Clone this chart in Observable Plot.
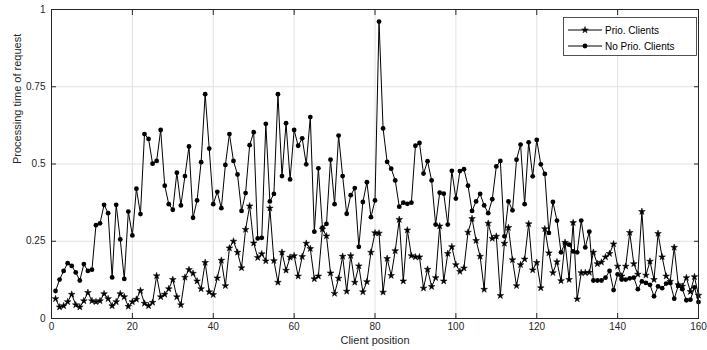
<!DOCTYPE html>
<html>
<head>
<meta charset="utf-8">
<script src="https://cdn.jsdelivr.net/npm/d3@7"></script>
<script src="https://cdn.jsdelivr.net/npm/@observablehq/plot@0.6"></script>
<style>
  html, body { margin: 0; padding: 0; background: #fff; }
  #chart { width: 707px; height: 350px; }
</style>
</head>
<body>
<div id="chart"></div>
<script>
// Processing time per client position (1..160)
const prioClients = [
  0.064, 0.037, 0.041, 0.054, 0.078, 0.044, 0.037, 0.057, 0.084, 0.057,
  0.054, 0.057, 0.080, 0.064, 0.041, 0.054, 0.080, 0.070, 0.039, 0.054,
  0.062, 0.090, 0.049, 0.041, 0.052, 0.138, 0.070, 0.078, 0.096, 0.126,
  0.070, 0.044, 0.133, 0.158, 0.146, 0.121, 0.096, 0.181, 0.086, 0.077,
  0.131, 0.188, 0.106, 0.228, 0.250, 0.214, 0.164, 0.288, 0.364, 0.244,
  0.197, 0.209, 0.186, 0.357, 0.187, 0.117, 0.214, 0.156, 0.198, 0.203,
  0.137, 0.200, 0.243, 0.226, 0.128, 0.137, 0.289, 0.267, 0.147, 0.081,
  0.130, 0.201, 0.088, 0.203, 0.117, 0.170, 0.086, 0.119, 0.214, 0.277,
  0.276, 0.085, 0.194, 0.139, 0.219, 0.320, 0.121, 0.286, 0.203, 0.199,
  0.199, 0.098, 0.159, 0.103, 0.132, 0.299, 0.121, 0.210, 0.232, 0.174,
  0.152, 0.163, 0.279, 0.323, 0.252, 0.201, 0.094, 0.308, 0.259, 0.266,
  0.074, 0.243, 0.294, 0.190, 0.106, 0.174, 0.192, 0.306, 0.157, 0.181,
  0.099, 0.290, 0.212, 0.148, 0.183, 0.122, 0.246, 0.126, 0.310, 0.063,
  0.148, 0.148, 0.149, 0.214, 0.177, 0.182, 0.199, 0.210, 0.241, 0.169,
  0.137, 0.169, 0.278, 0.177, 0.143, 0.346, 0.140, 0.185, 0.126, 0.275,
  0.199, 0.137, 0.120, 0.230, 0.109, 0.104, 0.132, 0.087, 0.135, 0.075
];
const noPrioClients = [
  0.089, 0.126, 0.154, 0.179, 0.170, 0.149, 0.123, 0.176, 0.154, 0.158,
  0.302, 0.308, 0.368, 0.341, 0.133, 0.368, 0.256, 0.128, 0.346, 0.269,
  0.420, 0.338, 0.597, 0.581, 0.501, 0.510, 0.610, 0.430, 0.370, 0.352,
  0.472, 0.366, 0.461, 0.557, 0.326, 0.382, 0.506, 0.726, 0.550, 0.370,
  0.410, 0.357, 0.497, 0.597, 0.510, 0.466, 0.348, 0.406, 0.561, 0.603,
  0.259, 0.261, 0.630, 0.379, 0.403, 0.726, 0.461, 0.632, 0.450, 0.610,
  0.559, 0.583, 0.499, 0.652, 0.281, 0.486, 0.294, 0.306, 0.514, 0.370,
  0.592, 0.461, 0.339, 0.399, 0.422, 0.232, 0.377, 0.441, 0.328, 0.382,
  0.961, 0.615, 0.507, 0.485, 0.447, 0.362, 0.375, 0.371, 0.375, 0.559,
  0.568, 0.469, 0.509, 0.447, 0.304, 0.407, 0.404, 0.304, 0.478, 0.388,
  0.477, 0.483, 0.430, 0.348, 0.379, 0.403, 0.366, 0.341, 0.386, 0.492,
  0.510, 0.266, 0.379, 0.350, 0.514, 0.563, 0.370, 0.570, 0.460, 0.578,
  0.499, 0.468, 0.277, 0.377, 0.317, 0.214, 0.243, 0.239, 0.217, 0.214,
  0.317, 0.230, 0.281, 0.123, 0.123, 0.123, 0.132, 0.154, 0.092, 0.143,
  0.126, 0.126, 0.130, 0.132, 0.095, 0.120, 0.115, 0.109, 0.072, 0.104,
  0.098, 0.113, 0.115, 0.064, 0.106, 0.095, 0.059, 0.061, 0.101, 0.053
];
const seriesNames = ["Prio. Clients", "No Prio. Clients"];
const xTicks = [0, 20, 40, 60, 80, 100, 120, 140, 160];
const yTicks = [0, 0.25, 0.5, 0.75, 1];
const xLabel = "Client position";
const yLabel = "Processing time of request";

const prioData = prioClients.map((v, i) => ({x: i + 1, y: v}));
const noPrioData = noPrioClients.map((v, i) => ({x: i + 1, y: v}));

const axisColor = "#262626";
const gridColor = "#e2e2e2";
const font = "'Liberation Sans', Arial, sans-serif";

const plot = Plot.plot({
  width: 707,
  height: 350,
  marginLeft: 51,
  marginRight: 9,
  marginTop: 9,
  marginBottom: 32,
  style: {fontFamily: font, fontSize: "10px", background: "#fff", color: "#333"},
  x: {domain: [0, 160], ticks: xTicks},
  y: {domain: [0, 1], ticks: yTicks},
  marks: [
    Plot.ruleX(xTicks, {stroke: gridColor, strokeWidth: 1}),
    Plot.ruleY(yTicks, {stroke: gridColor, strokeWidth: 1}),
    Plot.line(prioData, {x: "x", y: "y", stroke: "#000", strokeWidth: 1}),
    Plot.line(noPrioData, {x: "x", y: "y", stroke: "#000", strokeWidth: 1}),
    Plot.dot(prioData, {x: "x", y: "y", symbol: "star", r: 2.1, fill: "#000", stroke: "#000", strokeWidth: 0.5}),
    Plot.dot(noPrioData, {x: "x", y: "y", symbol: "circle", r: 2.4, fill: "#000"}),
    Plot.frame({stroke: axisColor, strokeWidth: 1}),
    Plot.axisX(xTicks, {anchor: "bottom", tickSize: 0, tickPadding: 4, label: null, fill: "#262626"}),
    Plot.axisX(xTicks, {anchor: "bottom", tickSize: -5, tickFormat: () => "", label: null, stroke: axisColor}),
    Plot.axisX(xTicks, {anchor: "top", tickSize: -5, tickFormat: () => "", label: null, stroke: axisColor}),
    Plot.axisY(yTicks, {anchor: "left", tickSize: 0, tickPadding: 6, label: null, tickFormat: d => String(d), fill: "#262626"}),
    Plot.axisY(yTicks, {anchor: "left", tickSize: -5, tickFormat: () => "", label: null, stroke: axisColor}),
    Plot.axisY(yTicks, {anchor: "right", tickSize: -5, tickFormat: () => "", label: null, stroke: axisColor}),
    Plot.text([xLabel], {frameAnchor: "bottom", dy: 22, lineAnchor: "middle", text: d => d, fontSize: 11, fill: "#262626"}),
    Plot.text([yLabel], {frameAnchor: "left", dx: -34, lineAnchor: "middle", rotate: -90, text: d => d, fontSize: 11, fill: "#262626"})
  ]
});

// Legend (drawn in pixel space of the SVG)
const svg = d3.select(plot);
const lg = svg.append("g").attr("font-family", font).attr("font-size", 10).attr("text-anchor", "start");
lg.append("rect").attr("x", 563.5).attr("y", 17.5).attr("width", 133).attr("height", 38)
  .attr("fill", "#fff").attr("stroke", axisColor).attr("stroke-width", 0.8);
const starPath = d3.symbol(d3.symbolStar, 14)();
seriesNames.forEach((name, i) => {
  const yy = 30 + i * 16;
  lg.append("line").attr("x1", 568).attr("x2", 602).attr("y1", yy).attr("y2", yy).attr("stroke", "#000");
  if (i === 0) {
    lg.append("path").attr("d", starPath).attr("transform", `translate(585,${yy})`).attr("fill", "#000").attr("stroke", "#000").attr("stroke-width", 0.5);
  } else {
    lg.append("circle").attr("cx", 585).attr("cy", yy).attr("r", 2.4).attr("fill", "#000");
  }
  lg.append("text").attr("x", 605).attr("y", yy).attr("dy", "0.35em").attr("fill", "#000").text(name);
});

document.getElementById("chart").appendChild(plot);
</script>
</body>
</html>
